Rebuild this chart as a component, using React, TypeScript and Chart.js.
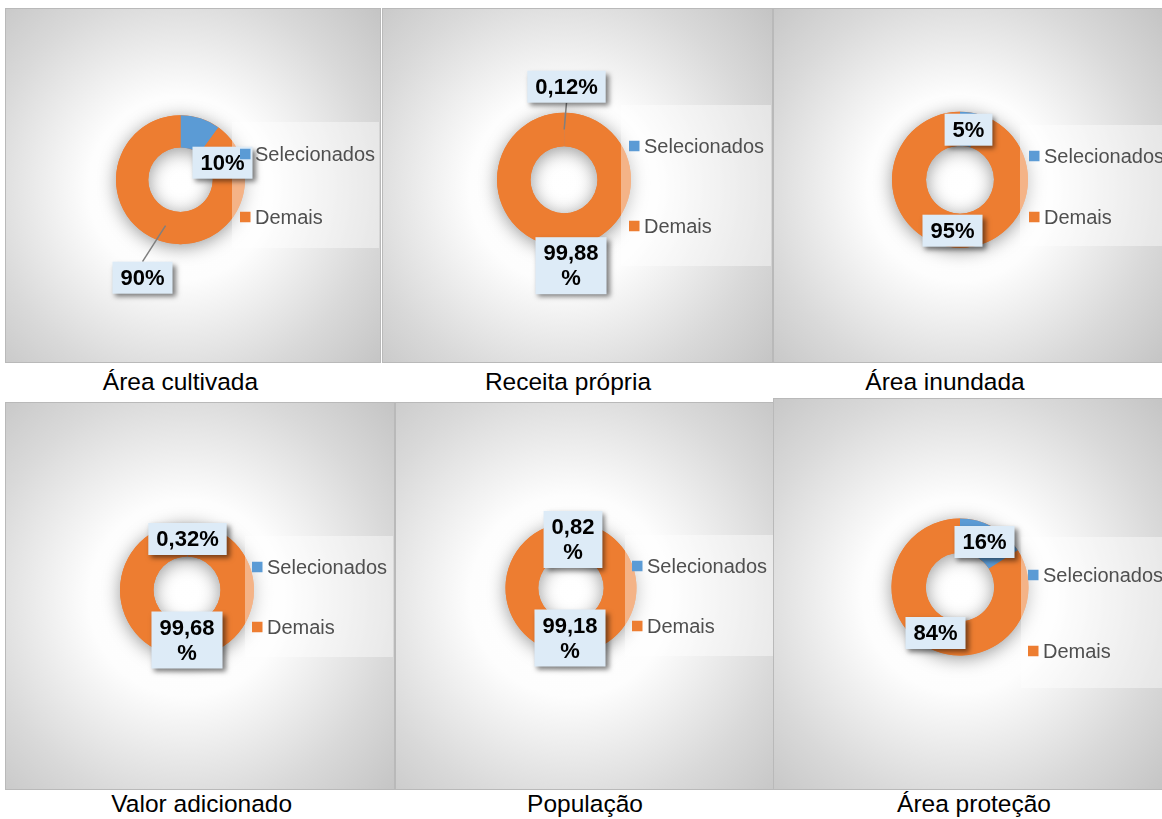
import React, { useEffect, useRef } from "react";
import { Chart, registerables } from "chart.js";

Chart.register(...registerables);

// ---------- data ----------
const categories = ["Selecionados", "Demais"];
const chartTitles = [
  "Área cultivada",
  "Receita própria",
  "Área inundada",
  "Valor adicionado",
  "População",
  "Área proteção",
];
const selecionados = [10, 0.12, 5, 0.32, 0.82, 16];
const demais = [90, 99.88, 95, 99.68, 99.18, 84];

// ---------- styles ----------
const sliceColors = ["#5B9BD5", "#ED7D31"];
const FONT = '"Liberation Sans", Arial, sans-serif';

type LabelLayout = { dx: number; dy: number; wrap: boolean; leader: boolean };
type PanelLayout = {
  x: number; y: number; w: number; h: number;
  cx: number; cy: number; r: number;
  legend: { x: number; y: number; w: number; h: number; sx: number; items: number[] };
  labels: LabelLayout[];
  caption: { x: number; y: number };
};

const layouts: PanelLayout[] = [
  {
    x: 5, y: 8, w: 376, h: 355, cx: 175.5, cy: 171.7, r: 64.5,
    legend: { x: 227, y: 114, w: 147, h: 126, sx: 235, items: [146, 209] },
    labels: [
      { dx: 42, dy: -17, wrap: false, leader: false },
      { dx: -38, dy: 98, wrap: false, leader: true },
    ],
    caption: { x: 180.5, y: 391 },
  },
  {
    x: 382, y: 8, w: 391, h: 355, cx: 182, cy: 171.7, r: 67,
    legend: { x: 239, y: 97, w: 150, h: 161, sx: 247, items: [138, 218] },
    labels: [
      { dx: 2.5, dy: -93, wrap: false, leader: true },
      { dx: 7, dy: 86, wrap: true, leader: false },
    ],
    caption: { x: 568, y: 391 },
  },
  {
    x: 773, y: 8, w: 390, h: 355, cx: 187, cy: 171.7, r: 68,
    legend: { x: 247, y: 117, w: 150, h: 121, sx: 256, items: [148, 209] },
    labels: [
      { dx: 8.5, dy: -50, wrap: false, leader: false },
      { dx: -7.5, dy: 51, wrap: false, leader: false },
    ],
    caption: { x: 945, y: 391 },
  },
  {
    x: 5, y: 402, w: 390, h: 388, cx: 182, cy: 188, r: 67,
    legend: { x: 240, y: 134, w: 148, h: 121, sx: 247, items: [165, 225] },
    labels: [
      { dx: 0.5, dy: -51, wrap: false, leader: false },
      { dx: 0, dy: 50, wrap: true, leader: false },
    ],
    caption: { x: 201.7, y: 813 },
  },
  {
    x: 395, y: 402, w: 392, h: 388, cx: 176, cy: 186, r: 65.5,
    legend: { x: 230, y: 133, w: 150, h: 121, sx: 237, items: [164, 224] },
    labels: [
      { dx: 2, dy: -48.5, wrap: true, leader: false },
      { dx: -1, dy: 50, wrap: true, leader: false },
    ],
    caption: { x: 585, y: 813 },
  },
  {
    x: 773, y: 398, w: 390, h: 392, cx: 187, cy: 189, r: 68.5,
    legend: { x: 248, y: 139, w: 150, h: 151, sx: 255, items: [177, 253] },
    labels: [
      { dx: 24.5, dy: -45, wrap: false, leader: false },
      { dx: -24.5, dy: 46, wrap: false, leader: false },
    ],
    caption: { x: 974, y: 813 },
  },
];

const fmt = (v: number) => String(v).replace(".", ",") + "%";

function Panel({ idx }: { idx: number }) {
  const ref = useRef<HTMLCanvasElement | null>(null);
  const L = layouts[idx];

  useEffect(() => {
    const canvas = ref.current;
    if (!canvas) return;
    const values = [selecionados[idx], demais[idx]];

    const deco = {
      id: "deco" + idx,
      beforeDraw(chart: any) {
        const ctx = chart.ctx as CanvasRenderingContext2D;
        const w = chart.width, h = chart.height;
        const arc = chart.getDatasetMeta(0).data[0] as any;
        const cx = arc ? arc.x : L.cx;
        const cy = arc ? arc.y : L.cy;
        const R = Math.max(
          Math.hypot(cx, cy), Math.hypot(w - cx, cy),
          Math.hypot(cx, h - cy), Math.hypot(w - cx, h - cy)
        );
        ctx.save();
        const g = ctx.createRadialGradient(cx, cy + 8, 0, cx, cy + 8, R);
        g.addColorStop(0, "#ffffff");
        g.addColorStop(0.34, "#fdfdfd");
        g.addColorStop(0.55, "#e9e9e9");
        g.addColorStop(0.72, "#d9d9d9");
        g.addColorStop(1, "#c3c3c3");
        ctx.fillStyle = g;
        ctx.fillRect(0, 0, w, h);
        ctx.strokeStyle = "#b9b9b9";
        ctx.lineWidth = 1;
        ctx.strokeRect(0.5, 0.5, w - 1, h - 1);
        ctx.restore();
      },
      beforeDatasetsDraw(chart: any) {
        const ctx = chart.ctx as CanvasRenderingContext2D;
        const arc = chart.getDatasetMeta(0).data[0] as any;
        if (!arc) return;
        ctx.save();
        ctx.shadowColor = "rgba(0,0,0,0.4)";
        ctx.shadowBlur = 18;
        ctx.shadowOffsetY = 3;
        ctx.beginPath();
        ctx.arc(arc.x, arc.y, arc.outerRadius, 0, Math.PI * 2);
        ctx.moveTo(arc.x + arc.innerRadius, arc.y);
        ctx.arc(arc.x, arc.y, arc.innerRadius, 0, Math.PI * 2, true);
        ctx.fillStyle = sliceColors[1];
        ctx.fill("evenodd");
        ctx.restore();
      },
      afterDatasetsDraw(chart: any) {
        const ctx = chart.ctx as CanvasRenderingContext2D;
        const meta = chart.getDatasetMeta(0);
        const lg = L.legend;

        // legend background (semi-transparent)
        ctx.save();
        ctx.fillStyle = "rgba(255,255,255,0.42)";
        ctx.fillRect(lg.x, lg.y, lg.w, lg.h);
        ctx.restore();

        // data labels
        meta.data.forEach((el: any, i: number) => {
          const lay = L.labels[i];
          const txt = fmt(values[i]);
          const lines = lay.wrap ? [txt.slice(0, -1), "%"] : [txt];
          ctx.save();
          ctx.font = `bold 22px ${FONT}`;
          const tw = Math.max(...lines.map((s) => ctx.measureText(s).width));
          const bw = tw + 16;
          const lh = 25;
          const bh = lines.length * lh + 7;
          const bx = el.x + lay.dx;
          const by = el.y + lay.dy;
          if (lay.leader) {
            const c = el.tooltipPosition(false);
            const sy = c.y < by ? by - bh / 2 : by + bh / 2;
            ctx.strokeStyle = "#7f7f7f";
            ctx.lineWidth = 1.5;
            ctx.beginPath();
            ctx.moveTo(bx, sy);
            ctx.lineTo(c.x, c.y);
            ctx.stroke();
          }
          ctx.shadowColor = "rgba(0,0,0,0.5)";
          ctx.shadowBlur = 5;
          ctx.shadowOffsetX = 3;
          ctx.shadowOffsetY = 3;
          ctx.fillStyle = "#DDEBF7";
          ctx.fillRect(bx - bw / 2, by - bh / 2, bw, bh);
          ctx.shadowColor = "transparent";
          ctx.shadowBlur = 0;
          ctx.shadowOffsetX = 0;
          ctx.shadowOffsetY = 0;
          ctx.fillStyle = "#000000";
          ctx.textAlign = "center";
          ctx.textBaseline = "middle";
          lines.forEach((s, k) => {
            const ly = by - ((lines.length - 1) * lh) / 2 + k * lh + 1;
            ctx.fillText(s, bx, ly);
          });
          ctx.restore();
        });

        // legend items
        ctx.save();
        ctx.font = `20px ${FONT}`;
        ctx.textBaseline = "middle";
        ctx.textAlign = "left";
        categories.forEach((name, i) => {
          const iy = lg.items[i];
          ctx.fillStyle = sliceColors[i];
          ctx.fillRect(lg.sx, iy - 5.25, 10.5, 10.5);
          ctx.fillStyle = "#4f4f4f";
          ctx.fillText(name, lg.sx + 15, iy + 1);
        });
        ctx.restore();
      },
    };

    const chart = new Chart(canvas, {
      type: "doughnut",
      data: {
        labels: categories,
        datasets: [
          {
            data: values,
            backgroundColor: sliceColors,
            borderWidth: 0,
          },
        ],
      },
      options: {
        responsive: false,
        maintainAspectRatio: false,
        animation: false,
        cutout: "50%",
        layout: {
          padding: {
            left: L.cx - L.r,
            top: L.cy - L.r,
            right: L.w - L.cx - L.r,
            bottom: L.h - L.cy - L.r,
          },
        },
        plugins: {
          legend: { display: false },
          tooltip: { enabled: false },
        },
        events: [],
      },
      plugins: [deco],
    });
    return () => chart.destroy();
  }, [idx]);

  return (
    <canvas
      ref={ref}
      width={L.w}
      height={L.h}
      style={{ position: "absolute", left: L.x, top: L.y, width: L.w, height: L.h, display: "block" }}
    />
  );
}

export default function App() {
  return (
    <div
      style={{
        position: "fixed",
        left: 0,
        top: 0,
        width: 1162,
        height: 819,
        overflow: "hidden",
        background: "#ffffff",
      }}
    >
      {layouts.map((_, i) => (
        <Panel key={i} idx={i} />
      ))}
      {layouts.map((L, i) => (
        <div
          key={"c" + i}
          style={{
            position: "absolute",
            left: L.caption.x - 150,
            top: L.caption.y - 20.6,
            width: 300,
            textAlign: "center",
            font: `24.5px ${FONT}`,
            lineHeight: "24px",
            color: "#000",
            whiteSpace: "nowrap",
          }}
        >
          {chartTitles[i]}
        </div>
      ))}
    </div>
  );
}
